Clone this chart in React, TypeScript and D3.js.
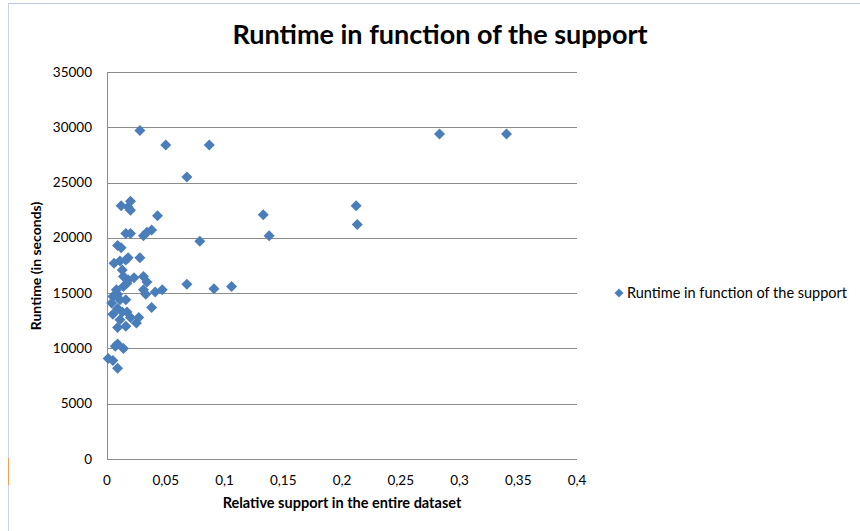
import React from "react";
import * as d3 from "d3";

const supportValues: number[] = [
  0.028, 0.05, 0.087, 0.068, 0.012, 0.018, 0.02, 0.02, 0.043, 0.133, 0.212, 0.213,
  0.138, 0.079, 0.038, 0.034, 0.031, 0.016, 0.02, 0.009, 0.012, 0.028, 0.006, 0.011,
  0.016, 0.018, 0.013, 0.014, 0.018, 0.023, 0.031, 0.034, 0.068, 0.283, 0.34, 0.091,
  0.106, 0.047, 0.041, 0.033, 0.031, 0.038, 0.008, 0.009, 0.005, 0.011, 0.016, 0.004,
  0.009, 0.013, 0.017, 0.005, 0.011, 0.02, 0.027, 0.025, 0.009, 0.016, 0.009, 0.014,
  0.007, 0.001, 0.005, 0.009, 0.017, 0.014,
];
const runtimeValues: number[] = [
  29700, 28400, 28400, 25500, 22900, 22800, 23300, 22500, 22000, 22100, 22900, 21200,
  20200, 19700, 20700, 20500, 20200, 20400, 20400, 19300, 19100, 18200, 17700, 17900,
  18000, 18200, 17100, 16500, 16200, 16400, 16500, 16000, 15800, 29400, 29400, 15400,
  15600, 15300, 15100, 14900, 15300, 13700, 15300, 14900, 14700, 14400, 14400, 14100,
  13600, 13300, 13300, 13100, 12600, 12800, 12800, 12300, 11900, 12000, 10400, 10000,
  10200, 9100, 8900, 8200, 15900, 15600,
];
const xTicks: number[] = [0, 0.05, 0.1, 0.15, 0.2, 0.25, 0.3, 0.35, 0.4];
const xTickLabels: string[] = ["0", "0,05", "0,1", "0,15", "0,2", "0,25", "0,3", "0,35", "0,4"];
const yTicks: number[] = [0, 5000, 10000, 15000, 20000, 25000, 30000, 35000];

const title = "Runtime in function of the support";
const xTitle = "Relative support in the entire dataset";
const yTitle = "Runtime (in seconds)";
const seriesName = "Runtime in function of the support";

const W = 860;
const H = 531;
const left = 107;
const right = 577;
const top = 72;
const bottom = 459;
const color = "#4A7EBB";
const font = "Lato, 'Open Sans', sans-serif";

function diamondPath(r: number): string {
  const p = d3.path();
  p.moveTo(0, -r);
  p.lineTo(r, 0);
  p.lineTo(0, r);
  p.lineTo(-r, 0);
  p.closePath();
  return p.toString();
}

export default function App() {
  const x = d3.scaleLinear().domain([0, 0.4]).range([left, right]);
  const y = d3.scaleLinear().domain([0, 35000]).range([bottom, top]);
  const diamond = diamondPath(5.5);
  const pts = supportValues.map((s, i) => ({ s, r: runtimeValues[i] }));

  return (
    <svg
      width={W}
      height={H}
      style={{ position: "absolute", left: 0, top: 0, background: "#fff" }}
      fontFamily={font}
    >
      <rect x={0} y={0} width={W} height={H} fill="#fff" />
      <line x1={8} x2={W} y1={3.5} y2={3.5} stroke="#b8c7db" strokeWidth={1} />
      <line x1={8.5} x2={8.5} y1={3} y2={H} stroke="#c9d4e2" strokeWidth={1} />
      <line x1={8.5} x2={8.5} y1={458} y2={485} stroke="#f0a050" strokeWidth={1} />

      <text x={440} y={44} textAnchor="middle" fontSize={27} fontWeight="bold" fill="#000">
        {title}
      </text>

      {yTicks.map((t) => (
        <g key={"y" + t}>
          {t > 0 && (
            <line x1={left} x2={right} y1={Math.round(y(t)) + 0.5} y2={Math.round(y(t)) + 0.5} stroke="#8c8c8c" strokeWidth={1} />
          )}
          <text x={92} y={y(t) + 4.5} textAnchor="end" fontSize={13.5} fill="#000">
            {t}
          </text>
        </g>
      ))}

      <line x1={left + 0.5} x2={left + 0.5} y1={top} y2={bottom} stroke="#8c8c8c" strokeWidth={1} />
      <line x1={left} x2={right} y1={bottom + 0.5} y2={bottom + 0.5} stroke="#8c8c8c" strokeWidth={1} />

      {xTicks.map((t, i) => (
        <text key={"x" + t} x={x(t)} y={485} textAnchor="middle" fontSize={13.5} fill="#000">
          {xTickLabels[i]}
        </text>
      ))}

      <text x={342} y={508} textAnchor="middle" fontSize={14.5} fontWeight="bold" fill="#000">
        {xTitle}
      </text>
      <text
        transform={`translate(41,${266}) rotate(-90)`}
        textAnchor="middle"
        fontSize={14}
        fontWeight="bold"
        fill="#000"
      >
        {yTitle}
      </text>

      {pts.map((p, i) => (
        <path key={i} d={diamond} transform={`translate(${x(p.s)},${y(p.r)})`} fill={color} />
      ))}

      <path d={diamondPath(4.5)} transform="translate(619,293)" fill={color} />
      <text x={627} y={298} fontSize={14.5} fill="#000">
        {seriesName}
      </text>
    </svg>
  );
}
